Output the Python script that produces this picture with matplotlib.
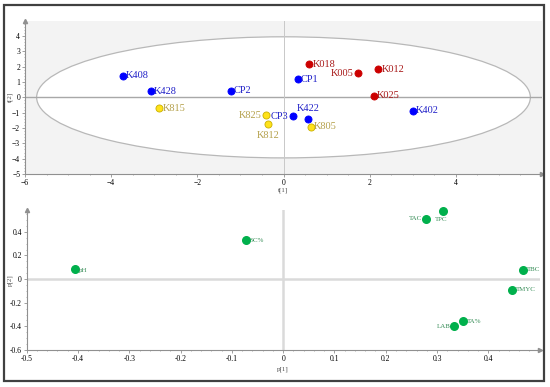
import matplotlib.pyplot as plt
import numpy as np
from matplotlib.patches import Ellipse, Rectangle

plt.rcParams['font.family'] = ['Liberation Serif', 'DejaVu Serif']

# score plot (t[1], t[2])
samples = ["K408", "K428", "CP2", "K815", "K825", "K812", "K018", "CP1",
           "K005", "K012", "K025", "K402", "CP3", "K422", "K805"]
t1 = [-3.73, -3.08, -1.23, -2.88, -0.40, -0.36, 0.60, 0.33,
      1.72, 2.20, 2.10, 3.00, 0.22, 0.57, 0.64]
t2 = [1.40, 0.41, 0.43, -0.72, -1.18, -1.76, 2.17, 1.18,
      1.58, 1.84, 0.10, -0.88, -1.23, -1.38, -1.91]
group = ["b", "b", "b", "y", "y", "y", "r", "b",
         "r", "r", "r", "b", "b", "b", "y"]

# loading plot (p[1], p[2])
variables = ["pH", "SC%", "TAC", "TPC", "TBC", "TMYC", "TA%", "LAB"]
p1 = [-0.405, -0.073, 0.278, 0.312, 0.468, 0.447, 0.351, 0.333]
p2 = [0.085, 0.327, 0.51, 0.574, 0.08, -0.088, -0.357, -0.40]

fill = {"b": "#0000FF", "r": "#CC0000", "y": "#FFE21A"}
edge = {"b": "#0000FF", "r": "#CC0000", "y": "#C9B000"}
txt = {"b": "#2020C8", "r": "#A81818", "y": "#B4A04A"}
# where each label sits relative to its point
side = {"K825": "left", "K812": "below", "K005": "left", "K422": "above",
        "CP3": "left"}

fig = plt.figure(figsize=(5.5, 3.87), dpi=100)
fig.patches.append(Rectangle((4 / 550, 1 - 381 / 387), 540 / 550, 376 / 387,
                             transform=fig.transFigure, fill=False,
                             edgecolor="#404040", linewidth=1.6))


def style(ax):
    for s in ["top", "right"]:
        ax.spines[s].set_visible(False)
    for s in ["left", "bottom"]:
        ax.spines[s].set_color("#909090")
        ax.spines[s].set_linewidth(0.8)
    ax.tick_params(labelsize=5.5, length=2, width=0.6, color="#909090", pad=1.5)
    ax.minorticks_on()
    ax.tick_params(which="minor", length=1, width=0.5, color="#909090")
    ax.plot(1, 0, ">", color="#909090", ms=3, transform=ax.transAxes, clip_on=False)
    ax.plot(0, 1, "^", color="#909090", ms=3, transform=ax.transAxes, clip_on=False)


ax1 = fig.add_axes([25 / 550, 1 - 174 / 387, 517 / 550, 153.3 / 387])
ax1.set_facecolor("#F3F3F3")
ax1.set_xlim(-6, 6)
ax1.set_ylim(-5, 5)
ax1.set_xticks([-6, -4, -2, 0, 2, 4])
ax1.set_yticks(range(-5, 5))
style(ax1)
ax1.add_patch(Ellipse((0, 0), 2 * 5.73, 2 * 3.95, facecolor="white",
                      edgecolor="#B8B8B8", linewidth=0.9, zorder=1))
ax1.axhline(0, color="#A8A8A8", linewidth=1.0, zorder=2)
ax1.axvline(0, color="#C8C8C8", linewidth=0.7, zorder=2)
for n, x, y, g in zip(samples, t1, t2, group):
    ax1.scatter(x, y, s=26, color=fill[g], edgecolor=edge[g], linewidth=0.6, zorder=3)
    sd = side.get(n, "right")
    if sd == "right":
        ax1.text(x + 0.07, y, n, color=txt[g], fontsize=7.5, va="center", ha="left")
    elif sd == "left":
        ax1.text(x - 0.1, y, n, color=txt[g], fontsize=7.5, va="center", ha="right")
    elif sd == "below":
        ax1.text(x, y - 0.45, n, color=txt[g], fontsize=7.5, va="top", ha="center")
    else:
        ax1.text(x, y + 0.35, n, color=txt[g], fontsize=7.5, va="bottom", ha="center")
ax1.text(-0.028, 0.5, "t[2]", transform=ax1.transAxes, fontsize=5, rotation=90,
         ha="center", va="center", color="#505050")
ax1.text(0.5, -0.105, "t[1]", transform=ax1.transAxes, fontsize=5,
         ha="center", va="center", color="#505050")

ax2 = fig.add_axes([26.7 / 550, 1 - 350 / 387, 512.9 / 550, 140 / 387])
ax2.set_xlim(-0.5, 0.5)
ax2.set_ylim(-0.6, 0.585)
ax2.set_xticks(np.arange(-0.5, 0.45, 0.1))
ax2.set_yticks([-0.6, -0.4, -0.2, 0, 0.2, 0.4])
style(ax2)
ax2.set_xticklabels(["-0.5", "-0.4", "-0.3", "-0.2", "-0.1", "0", "0.1", "0.2", "0.3", "0.4"])
ax2.set_yticklabels(["-0.6", "-0.4", "-0.2", "0", "0.2", "0.4"])
ax2.axhline(0, color="#DADADA", linewidth=1.8, zorder=1)
ax2.axvline(0, color="#DADADA", linewidth=1.8, zorder=1)
ax2.scatter(p1, p2, s=30, color="#00B04C", zorder=3, clip_on=False)
left_labels = {"TAC", "LAB"}
for n, x, y in zip(variables, p1, p2):
    if n in left_labels:
        ax2.text(x - 0.007, y, n, color="#3A8F5A", fontsize=5, va="center", ha="right")
    elif n == "TPC":
        ax2.text(x - 0.003, y - 0.045, n, color="#3A8F5A", fontsize=5, va="top", ha="center")
    elif n == "pH":
        ax2.text(x + 0.007, y - 0.01, n, color="#3A8F5A", fontsize=5, va="center", ha="left")
    else:
        ax2.text(x + 0.007, y, n, color="#3A8F5A", fontsize=5, va="center", ha="left")
ax2.text(-0.033, 0.5, "p[2]", transform=ax2.transAxes, fontsize=5, rotation=90,
         ha="center", va="center", color="#505050")
ax2.text(0.5, -0.135, "p[1]", transform=ax2.transAxes, fontsize=5,
         ha="center", va="center", color="#505050")

fig.savefig("out.png", dpi=100)
